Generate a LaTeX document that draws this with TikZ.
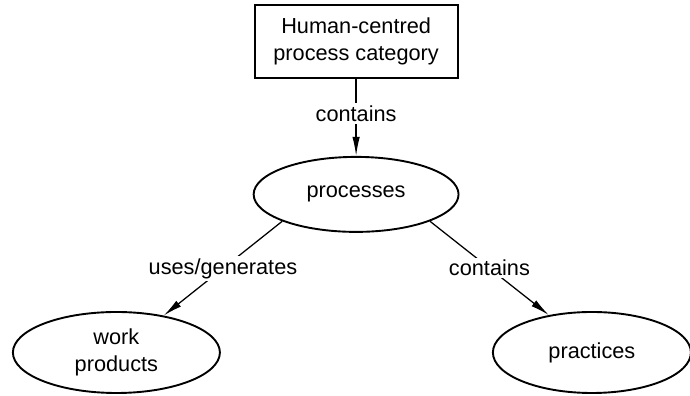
\documentclass[tikz,border=0pt]{standalone}
\usepackage{fontspec}
\setmainfont{Liberation Sans}
\usetikzlibrary{arrows.meta,shapes.geometric}

\tikzset{
  category/.style={draw,line width=1.8pt,rectangle,align=center,inner sep=0pt,
    minimum width=6.77cm,minimum height=2.43cm},
  concept/.style={draw,line width=1.8pt,ellipse,align=center,inner sep=0pt,
    minimum width=6.9cm,minimum height=2.7cm},
  relation/.style={line width=1.2pt,-{Latex[length=18pt,width=7pt]}},
  rellabel/.style={fill=white,inner sep=2pt}
}

\begin{document}
\begin{tikzpicture}[font=\fontsize{20.6pt}{25pt}\selectfont]

  \useasboundingbox (0,0) rectangle (23,13.2);

  % category box and the concepts below it
  \node[category] (cat) at (11.87,11.82) {Human-centred\\process category};
  \node[concept,minimum width=6.83cm,minimum height=2.5cm] (proc) at (11.87,6.72) {processes};
  \node[concept] (work) at (3.88,1.45) {work\\products};
  \node[concept,minimum width=6.6cm] (prac) at (19.73,1.45) {practices};

  % relations
  \draw[relation] (cat) -- node[rellabel,pos=0.45] {contains} (proc);
  \draw[relation] (proc.200) -- node[rellabel] {uses/generates} (work.38);
  \draw[relation] (proc.340) -- node[rellabel] {contains} (prac.139);

\end{tikzpicture}
\end{document}
